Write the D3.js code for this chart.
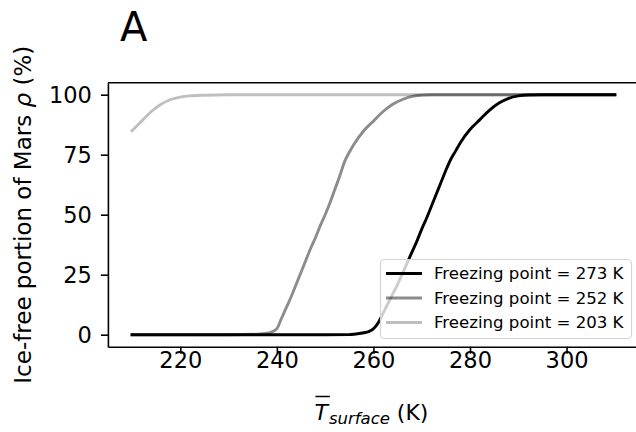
<!DOCTYPE html>
<html>
<head>
<meta charset="utf-8">
<script src="https://cdn.jsdelivr.net/npm/d3@7"></script>
<style>
  body { margin: 0; background: #fff; }
  text { font-family: "DejaVu Sans", sans-serif; fill: #000; }
</style>
</head>
<body>
<div id="chart"></div>
<script>
const width = 636;
const height = 432;

// surface temperature (K) and ice-free portion (%) for each freezing point
const temps273 = [210, 220, 230, 240, 250, 255, 256, 258, 259, 260, 261, 262, 263, 264, 265, 266, 267, 268, 269, 270, 271, 272, 273, 274, 275, 276, 277, 278, 280, 282, 284, 286, 288, 290, 292, 295, 300, 310];
const rho273   = [0, 0, 0, 0, 0, 0.05, 0.2, 0.8, 1.3, 2.5, 5, 9, 13, 17, 21, 25.5, 30, 34.5, 39, 44, 48.5, 53.5, 58.5, 63.5, 68.5, 73, 76.5, 80, 85.5, 89.5, 93.5, 96.5, 98.5, 99.5, 99.9, 100, 100, 100];

const temps252 = [210, 220, 230, 236, 238, 239, 240, 241, 242, 243, 244, 245, 246, 247, 248, 249, 250, 251, 252, 253, 254, 255, 256, 258, 260, 262, 264, 266, 268, 270, 272, 280, 310];
const rho252   = [0, 0, 0, 0.2, 0.6, 1.2, 2.5, 7, 11.5, 16, 21, 26, 31, 36, 40.5, 45.5, 50, 55, 60.5, 66, 72, 76, 79.5, 85, 89, 93, 96, 98, 99.3, 99.8, 100, 100, 100];

const temps203 = [210, 212, 214, 216, 218, 220, 222, 225, 230, 240, 260, 280, 310];
const rho203   = [85, 89, 93, 96, 98, 99, 99.5, 99.8, 100, 100, 100, 100, 100];

const seriesNames = ["Freezing point = 273 K", "Freezing point = 252 K", "Freezing point = 203 K"];
const seriesAlpha = [1, 0.45, 0.25];

const xTicks = [220, 240, 260, 280, 300];
const yTicks = [0, 25, 50, 75, 100];

const series = [
    { name: seriesNames[0], alpha: seriesAlpha[0], values: temps273.map((t, i) => [t, rho273[i]]) },
    { name: seriesNames[1], alpha: seriesAlpha[1], values: temps252.map((t, i) => [t, rho252[i]]) },
    { name: seriesNames[2], alpha: seriesAlpha[2], values: temps203.map((t, i) => [t, rho203[i]]) }
];

const svg = d3.select('#chart')
    .append('svg')
    .attr('width', width)
    .attr('height', height);

const x = d3.scaleLinear().domain([205, 315]).range([107.9, 639]);
const y = d3.scaleLinear().domain([-5, 105]).range([346.7, 82.7]);

// title
svg.append('text')
    .attr('x', 120)
    .attr('y', 40.5)
    .style('font-size', '40px')
    .text('A');

// lines
const line = d3.line()
    .x(d => x(d[0]))
    .y(d => y(d[1]))
    .curve(d3.curveMonotoneX);

svg.append('g')
    .selectAll('path')
    .data(series)
    .enter().append('path')
    .attr('d', d => line(d.values))
    .attr('fill', 'none')
    .attr('stroke', '#000')
    .attr('stroke-opacity', d => d.alpha)
    .attr('stroke-width', 2.9)
    .attr('stroke-linecap', 'square')
    .attr('stroke-linejoin', 'round');

// axes
const xAxis = svg.append('g')
    .attr('transform', `translate(0,${y(-5)})`)
    .call(d3.axisBottom(x).tickValues(xTicks).tickSize(7).tickPadding(14).tickSizeOuter(0));
const yAxis = svg.append('g')
    .attr('transform', `translate(${x(205)},0)`)
    .call(d3.axisLeft(y).tickValues(yTicks).tickSize(7).tickPadding(9).tickSizeOuter(0));

[xAxis, yAxis].forEach(g => {
    g.select('.domain').attr('stroke-width', 1.6);
    g.selectAll('.tick line').attr('stroke-width', 1.6);
    g.selectAll('.tick text')
        .style('font-family', '"DejaVu Sans", sans-serif')
        .style('font-size', '22.5px');
});
xAxis.selectAll('.tick text').attr('dy', '0');
yAxis.selectAll('.tick text').attr('dy', '0.36em');

// top spine
svg.append('line')
    .attr('x1', x(205)).attr('x2', x(315))
    .attr('y1', y(105)).attr('y2', y(105))
    .attr('stroke', '#000')
    .attr('stroke-width', 1.6);

// y label
const ylab = svg.append('text')
    .attr('transform', `translate(31,${(y(-5) + y(105)) / 2}) rotate(-90)`)
    .attr('text-anchor', 'middle')
    .style('font-size', '23px');
ylab.append('tspan').text('Ice-free portion of Mars ');
ylab.append('tspan').style('font-style', 'italic').text('ρ');
ylab.append('tspan').text('\u00a0(%)');

// x label: T-bar with subscript
const xl = svg.append('g');
const tT = xl.append('text')
    .attr('y', 420)
    .style('font-size', '22px')
    .style('font-style', 'italic')
    .text('T');
const tSub = xl.append('text')
    .attr('y', 423.5)
    .style('font-size', '16.5px')
    .style('font-style', 'italic')
    .text('surface');
const tK = xl.append('text')
    .attr('y', 420)
    .style('font-size', '22px')
    .text('\u00a0(K)');
const wT = tT.node().getComputedTextLength();
const wS = tSub.node().getComputedTextLength();
const wK = tK.node().getComputedTextLength();
const total = wT + 1 + wS + wK;
let x0 = (x(205) + x(315)) / 2 - total / 2 - 2;
tT.attr('x', x0);
tSub.attr('x', x0 + wT + 1);
tK.attr('x', x0 + wT + 1 + wS);
xl.append('line')
    .attr('x1', x0 + 1).attr('x2', x0 + wT + 2)
    .attr('y1', 396.5).attr('y2', 396.5)
    .attr('stroke', '#000')
    .attr('stroke-width', 1.5);

// legend
const legend = svg.append('g');
legend.append('rect')
    .attr('x', 380.5).attr('y', 259.5)
    .attr('width', 251).attr('height', 79)
    .attr('rx', 4)
    .attr('fill', '#fff')
    .attr('fill-opacity', 0.8)
    .attr('stroke', '#d5d5d5')
    .attr('stroke-width', 1.2);

const rows = legend.selectAll('.row')
    .data(series)
    .enter().append('g')
    .attr('class', 'row')
    .attr('transform', (d, i) => `translate(0,${273.5 + i * 24.5})`);
rows.append('line')
    .attr('x1', 386).attr('x2', 422)
    .attr('stroke', '#000')
    .attr('stroke-opacity', d => d.alpha)
    .attr('stroke-width', 2.9);
rows.append('text')
    .attr('x', 434)
    .attr('dy', '0.36em')
    .style('font-size', '16.6px')
    .text(d => d.name);
</script>
</body>
</html>
